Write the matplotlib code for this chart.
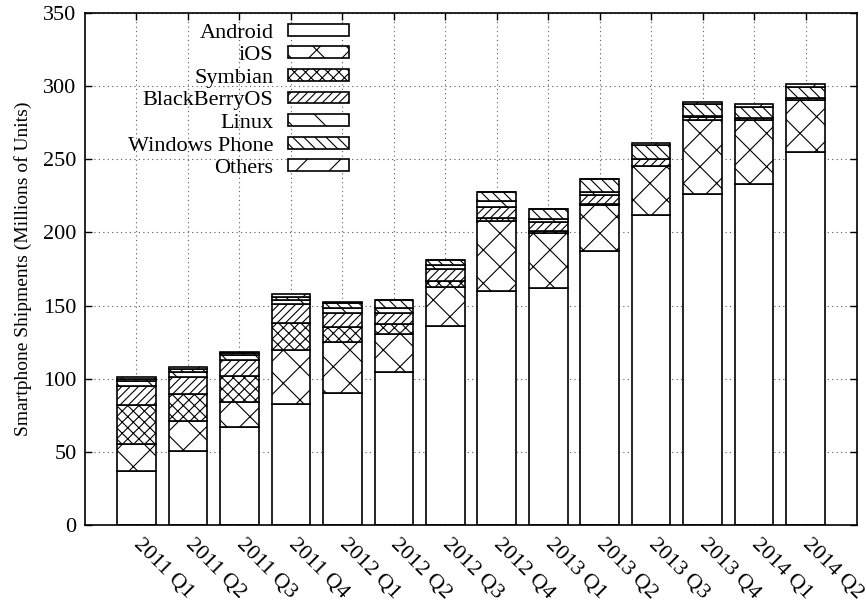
import matplotlib
matplotlib.use("Agg")
import matplotlib.pyplot as plt
import numpy as np

quarters = ["2011 Q1", "2011 Q2", "2011 Q3", "2011 Q4",
            "2012 Q1", "2012 Q2", "2012 Q3", "2012 Q4",
            "2013 Q1", "2013 Q2", "2013 Q3", "2013 Q4",
            "2014 Q1", "2014 Q2"]

# millions of units per quarter
android = [36.7, 50.8, 67.3, 82.7, 89.9, 104.8, 136.0, 159.8, 162.1, 187.4, 211.6, 226.1, 233.0, 255.3]
ios = [18.6, 20.3, 16.6, 36.9, 35.1, 26.0, 26.9, 47.8, 37.4, 31.2, 33.8, 51.0, 43.8, 35.2]
symbian = [26.4, 18.3, 17.8, 18.3, 10.4, 6.8, 4.1, 2.6, 1.2, 0.5, 0.0, 0.0, 0.0, 0.0]
blackberry = [13.3, 11.7, 11.3, 12.9, 9.7, 7.4, 7.7, 7.4, 6.3, 6.8, 4.5, 1.7, 1.4, 1.5]
linux = [3.1, 3.5, 3.4, 3.0, 3.5, 3.5, 2.8, 3.8, 2.1, 1.8, 0.6, 0.5, 0.3, 0.0]
windows = [1.6, 2.2, 1.0, 2.3, 3.3, 5.4, 3.7, 6.0, 7.0, 8.7, 9.5, 8.8, 7.2, 7.4]
others = [1.6, 1.0, 0.6, 1.5, 0.6, 0.1, 0.1, 0.4, 0.1, 0.1, 1.0, 1.3, 1.8, 1.9]

names = ["Android", "iOS", "Symbian", "BlackBerryOS", "Linux", "Windows Phone", "Others"]
hatches = ["", "x", "xxx", "////", "\\", "\\\\\\", "/"]


def main():
    plt.rcParams["font.family"] = "Liberation Serif"
    plt.rcParams["hatch.linewidth"] = 0.8

    fig = plt.figure(figsize=(8.66, 6.05), dpi=100)
    ax = fig.add_axes([85 / 866, 1 - 525 / 605, 772 / 866, 512 / 605])

    x = np.arange(len(quarters))
    bottom = np.zeros(len(quarters))
    series = [android, ios, symbian, blackberry, linux, windows, others]
    for name, vals, h in zip(names, series, hatches):
        vals = np.array(vals)
        ax.bar(x, vals, 0.75, bottom=bottom, label=name, facecolor="white",
               edgecolor="black", hatch=h, linewidth=1.2, zorder=2)
        bottom += vals

    ax.set_xlim(-1, 14)
    ax.set_ylim(0, 350)
    ax.set_yticks(np.arange(0, 351, 50))
    ax.set_xticks(x)
    ax.set_xticklabels(quarters, rotation=-45, ha="left", va="center",
                       rotation_mode="anchor")
    ax.tick_params(axis="both", direction="in", top=True, right=True,
                   length=5, width=1, labelsize=16)
    ax.tick_params(axis="x", pad=12)
    ax.tick_params(axis="y", pad=6)
    for s in ax.spines.values():
        s.set_linewidth(1.2)

    ax.grid(True, linestyle=(0, (1, 3)), color="0.35", linewidth=0.8)
    ax.set_axisbelow(True)

    ax.set_ylabel("Smartphone Shipments (Millions of Units)", fontsize=14)
    ax.yaxis.set_label_coords(-0.0687, 0.5)

    ax.legend(loc="upper right", bbox_to_anchor=(0.342, 0.979), frameon=False,
              markerfirst=False, fontsize=16, handlelength=2.75,
              handleheight=0.45, labelspacing=0.16, handletextpad=0.65,
              borderpad=0, borderaxespad=0)

    fig.savefig("out.png", dpi=100)


if __name__ == "__main__":
    main()
